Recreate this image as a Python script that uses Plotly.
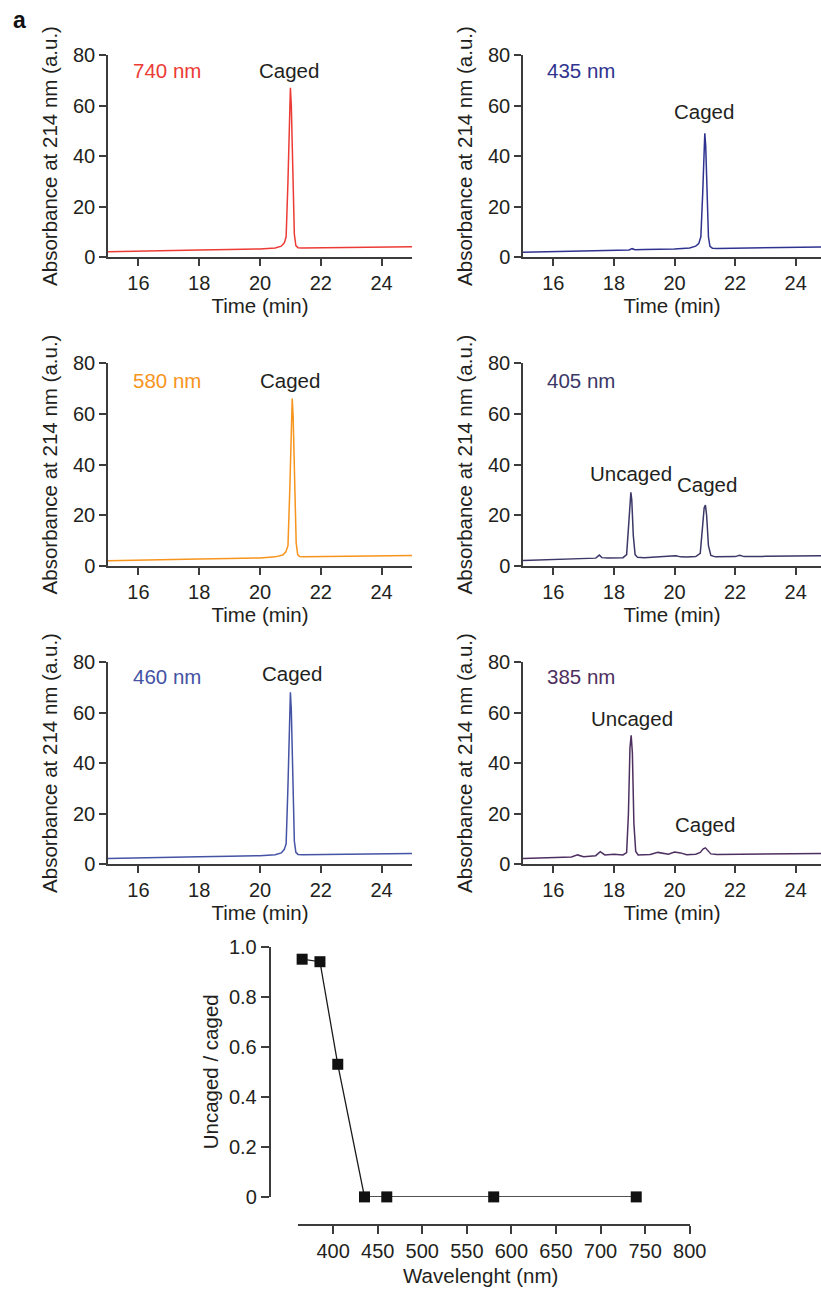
import plotly.graph_objects as go

W, H = 821, 1290
FONT = "Liberation Sans, Arial, sans-serif"
INK = "#231f20"
AXC = "#3c3c3c"

# ---------------- data: HPLC chromatograms (time in min, absorbance a.u.) ----------------
t_740 = [15, 16, 17, 18, 19, 20, 20.5, 20.7, 20.8, 20.86, 20.92, 20.97, 21.0, 21.03, 21.08,
         21.13, 21.18, 21.25, 21.4, 22, 23, 24, 25]
a_740 = [2.1, 2.4, 2.6, 2.8, 3.0, 3.2, 3.6, 4.3, 5.6, 8, 30, 60, 67, 60, 30,
         9, 4.5, 3.7, 3.6, 3.7, 3.9, 4.0, 4.1]

t_435 = [15, 16, 17, 18, 18.5, 18.6, 18.7, 19, 20, 20.5, 20.7, 20.8, 20.87, 20.93, 20.97,
         21.0, 21.03, 21.07, 21.12, 21.17, 21.25, 21.4, 22, 23, 24, 25]
a_435 = [1.9, 2.2, 2.4, 2.7, 2.8, 3.3, 2.9, 3.0, 3.2, 3.6, 4.3, 5.3, 8, 25, 44,
         49, 44, 22, 8, 4.2, 3.5, 3.4, 3.5, 3.7, 3.9, 4.0]

t_580 = [15, 16, 17, 18, 19, 20, 20.5, 20.75, 20.85, 20.92, 20.98, 21.03, 21.06, 21.09, 21.14,
         21.19, 21.24, 21.3, 21.45, 22, 23, 24, 25]
a_580 = [2.1, 2.4, 2.6, 2.8, 3.0, 3.2, 3.6, 4.3, 5.6, 8, 30, 59, 66, 59, 30,
         9, 4.5, 3.7, 3.6, 3.7, 3.9, 4.0, 4.1]

t_405 = [15, 16, 16.8, 17, 17.4, 17.52, 17.6, 17.8, 18, 18.3, 18.42, 18.48, 18.53, 18.56,
         18.59, 18.64, 18.7, 18.78, 19, 19.3, 19.6, 19.9, 20.05, 20.2, 20.4, 20.7, 20.85,
         20.92, 20.98, 21.02, 21.06, 21.12, 21.2, 21.35, 21.7, 22.0, 22.15, 22.3, 23, 24, 25]
a_405 = [2.2, 2.5, 2.9, 2.9, 3.1, 4.3, 3.3, 3.2, 3.3, 3.3, 4.5, 15, 27, 29,
         26, 12, 4.5, 3.4, 3.3, 3.4, 3.6, 3.9, 4.0, 3.6, 3.5, 3.7, 5,
         14, 23, 24, 20, 8, 4.2, 3.6, 3.6, 3.7, 4.2, 3.7, 3.8, 3.9, 4.1]

t_460 = [15, 16, 17, 18, 19, 20, 20.5, 20.7, 20.8, 20.86, 20.92, 20.97, 21.0, 21.03, 21.08,
         21.13, 21.18, 21.25, 21.4, 22, 23, 24, 25]
a_460 = [2.2, 2.5, 2.7, 2.9, 3.1, 3.3, 3.7, 4.4, 5.8, 8, 31, 61, 68, 61, 31,
         9, 4.6, 3.8, 3.7, 3.8, 4.0, 4.1, 4.2]

t_385 = [15, 16, 16.6, 16.8, 17.0, 17.4, 17.55, 17.7, 18.0, 18.3, 18.42, 18.48, 18.53, 18.57,
         18.61, 18.66, 18.72, 18.8, 19.0, 19.2, 19.45, 19.6, 19.8, 20.0, 20.2, 20.4, 20.7,
         20.85, 20.95, 21.02, 21.1, 21.2, 21.4, 22, 23, 24, 25]
a_385 = [2.2, 2.5, 2.8, 3.6, 2.9, 3.3, 4.9, 3.6, 3.9, 3.6, 4.5, 20, 46, 51,
         44, 16, 5, 3.6, 3.7, 3.8, 4.6, 4.3, 3.9, 4.7, 4.4, 3.7, 3.9,
         4.6, 6.0, 6.4, 5.2, 4.0, 3.8, 3.9, 4.0, 4.1, 4.2]

# ---------------- data: uncaged/caged ratio vs irradiation wavelength ----------------
wavelength_nm = [365, 385, 405, 435, 460, 580, 740]
ratio = [0.95, 0.94, 0.53, 0.0, 0.0, 0.0, 0.0]

time_ticks = [16, 18, 20, 22, 24]
abs_ticks = [0, 20, 40, 60, 80]
wl_ticks = [400, 450, 500, 550, 600, 650, 700, 750, 800]
ratio_ticks = [0, 0.2, 0.4, 0.6, 0.8, 1.0]
ratio_ticktext = ["0", "0.2", "0.4", "0.6", "0.8", "1.0"]

# ---------------- panel styling / placement ----------------
panels = [
    dict(label="740 nm", t=t_740, a=a_740, color="#ec3b35", col=0, row=0),
    dict(label="435 nm", t=t_435, a=a_435, color="#2f338f", col=1, row=0),
    dict(label="580 nm", t=t_580, a=a_580, color="#f7941e", col=0, row=1),
    dict(label="405 nm", t=t_405, a=a_405, color="#3b3767", col=1, row=1),
    dict(label="460 nm", t=t_460, a=a_460, color="#4453a4", col=0, row=2),
    dict(label="385 nm", t=t_385, a=a_385, color="#4e3060", col=1, row=2),
]
# peak labels (text, x in min, y in a.u.) per panel
peak_labels = [
    [("Caged", 20.97, 74)],
    [("Caged", 20.97, 57.5)],
    [("Caged", 21.0, 73.3)],
    [("Uncaged", 18.56, 36.5), ("Caged", 21.06, 32.3)],
    [("Caged", 21.05, 75.3)],
    [("Uncaged", 18.61, 57.7), ("Caged", 21.0, 15.8)],
]
label_pos = [(15.75, 74), (15.73, 73.7), (15.75, 73.3), (15.73, 73.3), (15.75, 74.2), (15.73, 74.2)]

col_px = [(108, 412, 25.0), (523, 821, 24.835)]   # left px, right px, x-range max
row_px = [(55, 257), (363, 566), (662, 864)]      # top px (y=80), bottom px (y=0)


def xdom(a, b):
    return [a / W, b / W]


def ydom(top, bottom):
    return [1 - bottom / H, 1 - top / H]


fig = go.Figure()
layout = dict(
    template="none",
    width=W, height=H, margin=dict(l=0, r=0, t=0, b=0, pad=0, autoexpand=False),
    paper_bgcolor="white", plot_bgcolor="white", showlegend=False,
    font=dict(family=FONT, color=INK, size=20),
)
annotations = []

tickfont = dict(family=FONT, size=20, color=INK)
titlefont = dict(family=FONT, size=20.5, color=INK)

for i, p in enumerate(panels):
    k = i + 1
    xs = "" if k == 1 else str(k)
    l, r, xmax = col_px[p["col"]]
    top, bot = row_px[p["row"]]
    fig.add_trace(go.Scatter(x=p["t"], y=p["a"], mode="lines",
                             line=dict(color=p["color"], width=1.5),
                             xaxis="x" + xs, yaxis="y" + xs, hoverinfo="skip"))
    layout["xaxis" + xs] = dict(
        domain=xdom(l, r), range=[15, xmax], anchor="y" + xs, automargin=False,
        tickvals=time_ticks, ticks="outside", ticklen=7, tickwidth=1.5, tickcolor=AXC,
        showline=True, linecolor=AXC, linewidth=1.5, showgrid=False, zeroline=False,
        tickfont=tickfont, title=dict(text="Time (min)", font=titlefont, standoff=0),
    )
    layout["yaxis" + xs] = dict(
        domain=ydom(top, bot), range=[0, 80], anchor="x" + xs, automargin=False,
        tickvals=abs_ticks, ticks="outside", ticklen=7, tickwidth=1.5, tickcolor=AXC,
        showline=True, linecolor=AXC, linewidth=1.5, showgrid=False, zeroline=False,
        tickfont=tickfont,
        title=dict(text="Absorbance at 214 nm (a.u.)", font=titlefont, standoff=10),
    )
    lx, ly = label_pos[i]
    annotations.append(dict(text=p["label"], x=lx, y=ly, xref="x" + xs, yref="y" + xs,
                            xanchor="left", yanchor="middle", showarrow=False,
                            font=dict(family=FONT, size=20.5, color=p["color"])))
    for txt, px_, py_ in peak_labels[i]:
        annotations.append(dict(text=txt, x=px_, y=py_, xref="x" + xs, yref="y" + xs,
                                xanchor="center", yanchor="middle", showarrow=False,
                                font=titlefont))

# ---------------- bottom summary plot ----------------
fig.add_trace(go.Scatter(x=wavelength_nm, y=ratio, mode="lines+markers",
                         line=dict(color="#1a1a1a", width=1.3),
                         marker=dict(symbol="square", size=11, color="#111111"),
                         cliponaxis=False, xaxis="x7", yaxis="y7", hoverinfo="skip"))
layout["xaxis7"] = dict(domain=xdom(270.5, 689.7), range=[329.5, 800], anchor="y7",
                        automargin=False,
                        showline=False, showticklabels=False, ticks="", showgrid=False,
                        zeroline=False)
layout["yaxis7"] = dict(domain=ydom(946.7, 1196.9), range=[0, 1], anchor="x7",
                        automargin=False,
                        tickvals=ratio_ticks, ticktext=ratio_ticktext,
                        ticks="outside", ticklen=8, tickwidth=1.5, tickcolor=AXC,
                        showline=True, linecolor=AXC, linewidth=1.5, showgrid=False,
                        zeroline=False, tickfont=tickfont,
                        title=dict(text="Uncaged / caged", font=titlefont, standoff=5))
# detached x axis (offset below the data area, starting at 360 nm)
fig.add_trace(go.Scatter(x=[], y=[], xaxis="x8", yaxis="y8", hoverinfo="skip"))
layout["xaxis8"] = dict(domain=xdom(297.5, 689.7), range=[360, 800], anchor="y8",
                        automargin=False,
                        tickvals=wl_ticks, ticks="outside", ticklen=8, tickwidth=1.5,
                        tickcolor=AXC, showline=True, linecolor=AXC, linewidth=1.5,
                        showgrid=False, zeroline=False, tickfont=tickfont)
layout["yaxis8"] = dict(domain=ydom(1214, 1224.3), range=[0, 1], anchor="x8", visible=False,
                        automargin=False)

annotations.append(dict(text="Wavelenght (nm)", x=480 / W, y=1 - 1275 / H, xref="paper",
                        yref="paper", xanchor="center", yanchor="middle", showarrow=False,
                        font=titlefont))
annotations.append(dict(text="<b>a</b>", x=11 / W, y=1 - 20 / H, xref="paper", yref="paper",
                        xanchor="left", yanchor="middle", showarrow=False,
                        font=dict(family=FONT, size=23, color="#111111")))

layout["annotations"] = annotations
fig.update_layout(**layout)
fig.write_html("out.html")
